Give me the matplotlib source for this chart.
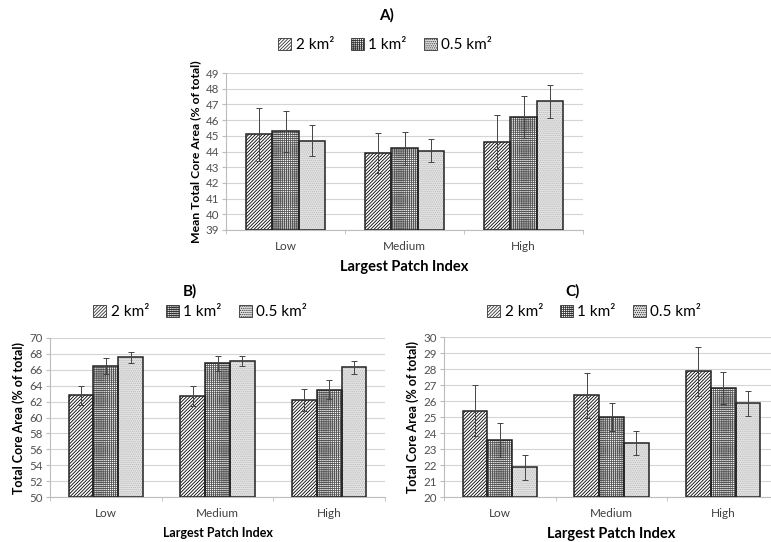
import matplotlib
matplotlib.use("Agg")
import matplotlib.pyplot as plt
import numpy as np
from matplotlib.patches import Patch

plt.rcParams['font.family'] = ['Lato', 'DejaVu Sans']
plt.rcParams['hatch.linewidth'] = 0.6

# ---- data ----
categories = ["Low", "Medium", "High"]
series_names = ["2 km²", "1 km²", "0.5 km²"]

a_means = [[45.1, 43.9, 44.6], [45.3, 44.2, 46.2], [44.7, 44.05, 47.2]]
a_errs = [[1.7, 1.3, 1.7], [1.3, 1.05, 1.35], [1.0, 0.75, 1.05]]

b_means = [[62.8, 62.7, 62.2], [66.5, 66.8, 63.5], [67.6, 67.1, 66.3]]
b_errs = [[1.2, 1.2, 1.4], [1.0, 0.9, 1.2], [0.7, 0.6, 0.8]]

c_means = [[25.4, 26.35, 27.85], [23.55, 25.0, 26.8], [21.85, 23.35, 25.85]]
c_errs = [[1.6, 1.4, 1.55], [1.05, 0.9, 1.0], [0.8, 0.75, 0.8]]

# styles per series: (face, hatch, hatch colour)
styles = [("white", "/" * 10, "#000000"),
          ("white", "+" * 8, "#555555"),
          ("#e4e4e4", "." * 8, "#b8b8b8")]

W, H = 771, 542
fig = plt.figure(figsize=(W / 100, H / 100), dpi=100)


def px(x0, y_top, x1, y_bot):
    return [x0 / W, 1 - y_bot / H, (x1 - x0) / W, (y_bot - y_top) / H]


def panel(rect, means, errs, ylim, ystep, ylabel, ylabel_size, xlabel_size):
    ax = fig.add_axes(rect)
    x = np.arange(len(categories))
    bw = 1 / (3 + 1.5)
    for i in range(3):
        face, hatch, hcol = styles[i]
        xs = x + (i - 1) * bw
        ax.bar(xs, np.array(means[i]) - ylim[0], bw, bottom=ylim[0], color=face,
               hatch=hatch, edgecolor=hcol, linewidth=0, zorder=2)
        ax.bar(xs, np.array(means[i]) - ylim[0], bw, bottom=ylim[0], color="none",
               edgecolor="#222222", linewidth=1.1, zorder=3)
        ax.errorbar(xs, means[i], yerr=errs[i], fmt="none", ecolor="#444444",
                    elinewidth=0.7, capsize=2.2, capthick=0.7, zorder=4)
    ax.set_xlim(-0.5, 2.5)
    ax.set_ylim(*ylim)
    ax.set_yticks(np.arange(ylim[0], ylim[1] + 0.01, ystep))
    ax.yaxis.grid(True, color="#d4d4d4", linewidth=0.8, zorder=0)
    ax.set_axisbelow(True)
    for s in ["top", "right"]:
        ax.spines[s].set_visible(False)
    for s in ["left", "bottom"]:
        ax.spines[s].set_color("#bdbdbd")
        ax.spines[s].set_linewidth(0.8)
    ax.set_xticks(x)
    ax.set_xticklabels(categories)
    ax.set_xticks([-0.5, 0.5, 1.5, 2.5], minor=True)
    ax.tick_params(axis="x", which="major", length=0, labelsize=8.5,
                   labelcolor="#404040", pad=8)
    ax.tick_params(axis="x", which="minor", length=3, color="#bdbdbd")
    ax.tick_params(axis="y", length=3, color="#bdbdbd", labelsize=8.3,
                   labelcolor="#505050", pad=2)
    ax.set_ylabel(ylabel, fontsize=ylabel_size, fontweight="bold", labelpad=3)
    ax.set_xlabel("Largest Patch Index", fontsize=xlabel_size, fontweight="bold",
                  labelpad=6)
    return ax


def add_legend(cx, cy):
    handles = []
    for face, hatch, hcol in styles:
        handles.append(Patch(facecolor=face, hatch=hatch, edgecolor="#333333",
                             linewidth=0.6))
    fig.legend(handles, series_names, loc="center", bbox_to_anchor=(cx / W, 1 - cy / H),
               ncol=3, frameon=False, fontsize=11, handlelength=0.85,
               handleheight=0.85, handletextpad=0.3, columnspacing=1.1)


panel(px(226, 73, 583, 230), a_means, a_errs, (39, 49), 1,
      "Mean Total Core Area (% of total)", 8.8, 10.5)
panel(px(50, 338, 385, 497), b_means, b_errs, (50, 70), 2,
      "Total Core Area (% of total)", 9, 9)
panel(px(444, 337, 779, 497), c_means, c_errs, (20, 30), 1,
      "Total Core Area (% of total)", 9, 10.5)

fig.text(387 / W, 1 - 15 / H, "A)", ha="center", va="center", fontsize=11,
         fontweight="bold")
fig.text(190 / W, 1 - 291 / H, "B)", ha="center", va="center", fontsize=11,
         fontweight="bold")
fig.text(573 / W, 1 - 291 / H, "C)", ha="center", va="center", fontsize=11,
         fontweight="bold")

add_legend(385, 45)
add_legend(200, 312)
add_legend(594, 312)

fig.savefig("out.png", dpi=100)
